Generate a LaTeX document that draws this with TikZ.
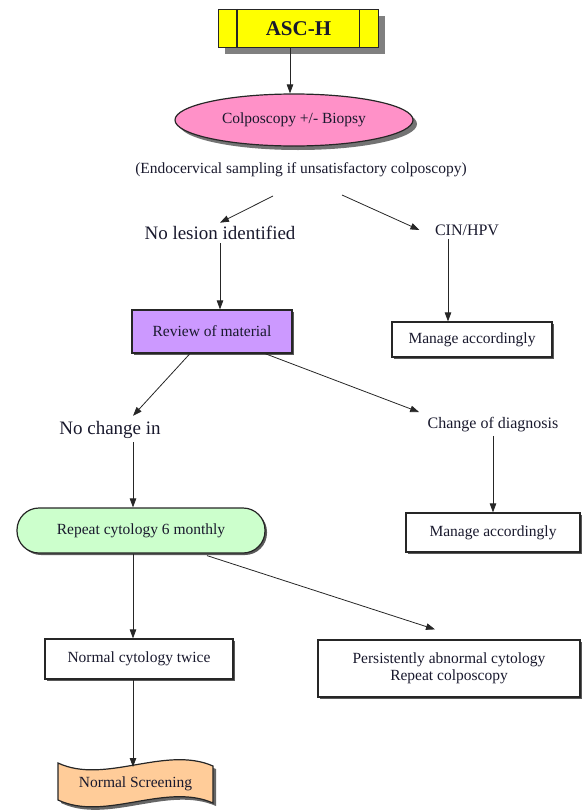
\documentclass[tikz,border=0pt]{standalone}
\usepackage{fontspec}
\setmainfont{Liberation Serif}
\usetikzlibrary{arrows.meta,shadows,shapes.geometric}
\definecolor{txt}{RGB}{25,25,45}
\definecolor{ascyellow}{RGB}{255,255,0}
\definecolor{pinkfill}{RGB}{255,145,200}
\definecolor{purplefill}{RGB}{204,153,255}
\definecolor{greenfill}{RGB}{204,255,204}
\definecolor{peachfill}{RGB}{255,204,153}
\begin{document}
\begin{tikzpicture}[x=1pt,y=-1pt,
  every node/.style={font=\fontsize{15.5}{18}\selectfont, text=txt},
  big/.style={font=\fontsize{19}{22}\selectfont},
  mid/.style={font=\fontsize{16}{19}\selectfont},
  boxstyle/.style={draw=black!85, line width=1.2pt, rectangle, inner sep=0pt, align=center},
  smallshadow/.style={drop shadow={shadow xshift=2pt, shadow yshift=-2pt, fill=black!65, opacity=1}},
  arr/.style={-{Triangle[length=9pt,width=6.5pt]}, line width=0.8pt, draw=black!85},
]
\useasboundingbox (0,0) rectangle (582,811);

% ASC-H
\node[boxstyle, fill=ascyellow, minimum width=160, minimum height=38,
      drop shadow={shadow xshift=6pt, shadow yshift=-6pt, fill=black!50, opacity=1}]
      (asch) at (298.5,28.5) {\fontsize{21}{24}\selectfont\bfseries ASC-H};
\draw[line width=1.2pt, black!85] ([xshift=19pt]asch.north west) -- ([xshift=19pt]asch.south west);
\draw[line width=1.2pt, black!85] ([xshift=-20pt]asch.north east) -- ([xshift=-20pt]asch.south east);

% Colposcopy ellipse
\node[ellipse, draw=black!85, line width=1.2pt, fill=pinkfill, minimum width=238, minimum height=52, inner sep=0pt,
      drop shadow={shadow xshift=4pt, shadow yshift=-4pt, fill=black!55, opacity=1}]
      (colpo) at (294,120) {Colposcopy +/- Biopsy};

\node (endo) at (301,170) {(Endocervical sampling if unsatisfactory colposcopy)};

\node[big] (lesion) at (220,233) {No lesion identified};
\node[mid] (cin) at (467,230) {CIN/HPV};

\node[boxstyle, fill=purplefill, minimum width=160, minimum height=43, smallshadow]
      (review) at (212,331.5) {Review of material};
\node[boxstyle, fill=white, minimum width=160, minimum height=35, smallshadow]
      (manage1) at (472,339.5) {Manage accordingly};

\node[big] (nochange) at (110,430) {No change in};
\node[mid] (changediag) at (493,425) {Change of diagnosis};

\node[draw=black!85, line width=1.2pt, fill=greenfill, rounded corners=22pt, minimum width=248, minimum height=45, inner sep=0pt, smallshadow]
      (repeat) at (141,530.5) {Repeat cytology 6 monthly};
\node[boxstyle, fill=white, minimum width=174, minimum height=39, smallshadow]
      (manage2) at (493,532.5) {Manage accordingly};

\node[boxstyle, fill=white, minimum width=188, minimum height=40, smallshadow]
      (normal) at (139,659) {Normal cytology twice};
\node[boxstyle, fill=white, minimum width=262, minimum height=57, smallshadow, font=\fontsize{15.5}{17}\selectfont]
      (persist) at (449,668.5) {Persistently abnormal cytology\\Repeat colposcopy};

% Normal Screening tape shape
\fill[black!60] (61,766) .. controls (108,788) and (168,748) .. (216,769) -- (216,806)
   .. controls (168,785) and (108,825) .. (61,803) -- cycle;
\filldraw[draw=black!85, line width=1.2pt, fill=peachfill] (58,763) .. controls (105,785) and (165,745) .. (213,766) -- (213,803)
   .. controls (165,782) and (105,822) .. (58,800) -- cycle;
\node (screen) at (135.5,784) {Normal Screening};
\coordinate (screentop) at (133,767);

% connectors
\draw[arr] ([xshift=-8.5pt]asch.south) -- ([xshift=-8.5pt]asch.south |- colpo.north);
\coordinate (endoL) at (273,196);
\coordinate (endoR) at (342,195);
\draw[arr] (endoL) -- (lesion.north);
\draw[arr] (endoR) -- ([xshift=-12pt]cin.west);
\draw[arr] (lesion.south) -- (lesion.south |- review.north);
\draw[arr] ([xshift=-19pt]cin.south) -- ([xshift=-19pt]cin.south |- manage1.north);
\draw[arr] ([xshift=-22pt]review.south) -- ([xshift=23pt,yshift=2pt]nochange.north);
\draw[arr] ([xshift=53pt]review.south) -- ([xshift=-5pt,yshift=2pt]changediag.north west);
\draw[arr] ([xshift=23pt]nochange.south) -- ([xshift=23pt]nochange.south |- repeat.north);
\draw[arr] (changediag.south) -- (changediag.south |- manage2.north);
\draw[arr] ([xshift=-8pt]repeat.south) -- ([xshift=-8pt]repeat.south |- normal.north);
\draw[arr] ([xshift=66pt,yshift=-2pt]repeat.south) -- ([xshift=-14pt,yshift=10pt]persist.north);
\draw[arr] ([xshift=-6pt]normal.south) -- (screentop);
\end{tikzpicture}
\end{document}
